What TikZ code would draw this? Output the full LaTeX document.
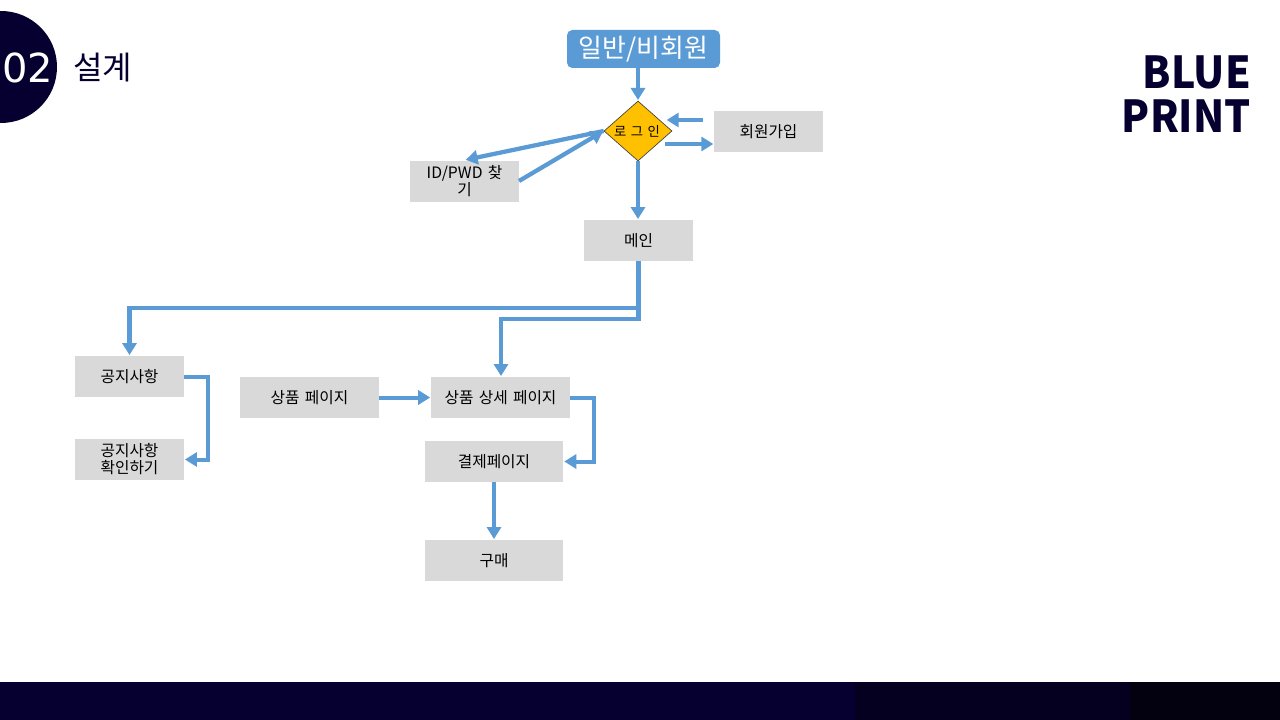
\documentclass[tikz,border=0pt]{standalone}
\usepackage{fontspec}
\setmainfont[WordSpace=1.5]{Noto Sans CJK KR}
\newfontfamily\logofont{Noto Sans CJK KR Black}
\newfontfamily\numfont{DejaVu Sans}
\usetikzlibrary{arrows.meta,shapes.geometric}
\definecolor{navy}{HTML}{05002F}
\definecolor{navyb}{HTML}{05001F}
\definecolor{navyc}{HTML}{03000F}
\definecolor{linkblue}{HTML}{5B9BD5}
\definecolor{boxgray}{HTML}{D9D9D9}
\definecolor{gold}{HTML}{FFC000}
\tikzset{
  x=0.75pt,y=-0.75pt,
  boxnode/.style={fill=boxgray,inner sep=0pt,align=center,minimum width=81.75pt,minimum height=30.75pt,font=\fontsize{11.8}{12.8}\selectfont},
  widebox/.style={boxnode,minimum width=104pt},
  logotext/.style={text=navy,font=\logofont\fontsize{33}{33}\selectfont,inner sep=0pt,anchor=east,transform shape,xscale=0.93},
  conn/.style={draw=linkblue,line width=3.2pt,-{Triangle[length=9pt,width=10.5pt]},shorten >=0.5pt},
  link/.style={draw=linkblue,line width=3pt,-{Triangle[length=9pt,width=10.5pt]},shorten >=0.5pt}
}
\begin{document}
\begin{tikzpicture}
\useasboundingbox (0,0) rectangle (1280,720);
\clip (0,0) rectangle (1280,720);
\fill[white] (0,0) rectangle (1280,720);
% footer band
\fill[navy] (0,682) rectangle (1280,720);
\fill[navyb] (855,682) rectangle (1130,720);
\fill[navyc] (1130,682) rectangle (1280,720);
% section badge
\fill[navy] (1,67) circle [radius=56];
\node[text=white,font=\numfont\fontsize{30}{30}\selectfont,inner sep=0pt] (num) at (28,68) {02};
\node[text=navy,font=\fontsize{24}{24}\selectfont,inner sep=0pt] (sect) at (102.5,68) {설계};
% logo
\node[logotext] (logoa) at (1251,72) {BLUE};
\node[logotext] (logob) at (1251,116.5) {PRINT};
% nodes
\node[fill=linkblue,rounded corners=4pt,text=white,inner sep=0pt,minimum width=114.75pt,minimum height=28.5pt,font=\fontsize{19.4}{19.4}\selectfont] (user) at (643.5,49) {일반/비회원};
\node[shape=diamond,draw=black!75,line width=0.5pt,fill=gold,inner sep=0pt,minimum width=51pt,minimum height=45pt,font=\fontsize{10}{10}\selectfont] (login) at (638,131) {\hspace{-1.5pt}로 그 인};
\node[boxnode] (join) at (768.5,132) {회원가입};
\node[boxnode] (find) at (464.5,181.5) {ID/PWD 찾\\기};
\node[boxnode] (main) at (638.5,240.5) {메인};
\node[boxnode] (notice) at (129.5,376.5) {공지사항};
\node[boxnode] (check) at (129.5,459.5) {공지사항\\확인하기};
\node[widebox] (product) at (309.5,397.5) {상품 페이지};
\node[widebox] (detail) at (500.5,397.5) {상품 상세 페이지};
\node[widebox] (pay) at (494,461.5) {결제페이지};
\node[widebox] (buy) at (494,560.5) {구매};
% free ends and bends
\coordinate (joinout) at (703,120);
\coordinate (joinin) at (666,120);
\coordinate (loginout) at (665,144);
\coordinate (joinarr) at (714,144);
\coordinate (findtop) at (465,160);
\coordinate (findright) at (519,181);
\coordinate (bendone) at (129.5,308);
\coordinate (bendtwo) at (501,319);
\coordinate (bendthree) at (208,420);
\coordinate (bendfour) at (594,430);
% connectors
\draw[link] (user.south -| login.north) -- (login.north);
\draw[link] (joinout) -- (joinin);
\draw[link] (loginout) -- (joinarr);
\draw[conn] (login.west) -- (findtop);
\draw[conn] (findright) -- (login.west);
\draw[conn] (login.south) -- (login.south |- main.north);
\draw[conn] (main.south) |- (bendone) -- (notice.north);
\draw[conn] (main.south) |- (bendtwo) -- (bendtwo |- detail.north);
\draw[link] (notice.east) -| (bendthree) |- (check.east);
\draw[link] (product.east) -- (detail.west);
\draw[link] (detail.east) -| (bendfour) |- (pay.east);
\draw[link] (pay.south) -- (buy.north);
\end{tikzpicture}
\end{document}
